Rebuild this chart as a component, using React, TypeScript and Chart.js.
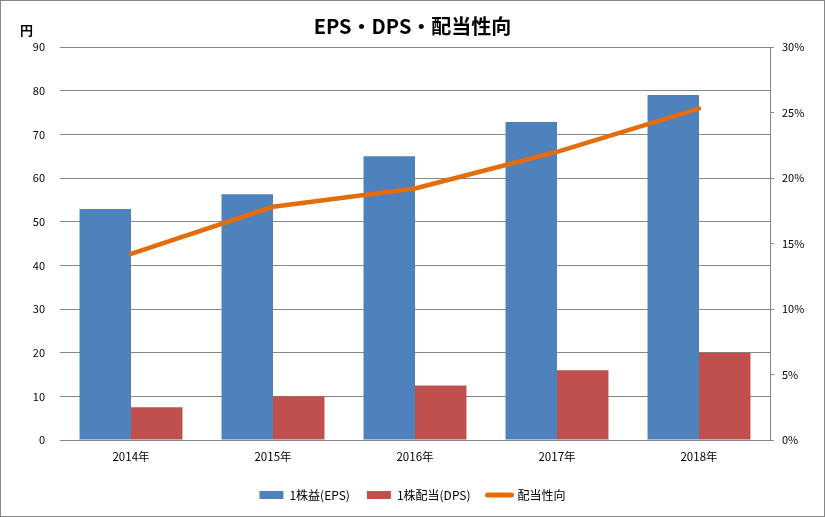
import React, { useEffect, useRef } from "react";
import { Chart, registerables } from "chart.js";

Chart.register(...registerables);

const years = ["2014年", "2015年", "2016年", "2017年", "2018年"];
const eps = [52.9, 56.3, 65.0, 72.8, 79.0];
const dps = [7.5, 10.0, 12.5, 16.0, 20.0];
const payoutRatio = [14.2, 17.8, 19.2, 22.0, 25.3];

const TITLE = "EPS・DPS・配当性向";
const UNIT = "円";
const FONT = "'Noto Sans CJK JP', 'Noto Sans', sans-serif";
const GRID = "#868686";
const LINE_COLOR = "#E46C0A";

const frameAndTitle = {
  id: "frameAndTitle",
  beforeDraw(chart: any) {
    const { ctx, width, height } = chart;
    ctx.save();
    ctx.fillStyle = "#ffffff";
    ctx.fillRect(0, 0, width, height);
    ctx.strokeStyle = GRID;
    ctx.lineWidth = 1;
    ctx.strokeRect(0.5, 0.5, width - 1, height - 1);
    ctx.restore();
  },
  afterDraw(chart: any) {
    const { ctx, width, chartArea } = chart;
    ctx.save();
    ctx.fillStyle = "#000000";
    ctx.textBaseline = "middle";
    ctx.textAlign = "center";
    ctx.font = `bold 20px ${FONT}`;
    ctx.fillText(TITLE, width / 2, 26);
    ctx.font = `bold 13px ${FONT}`;
    ctx.textAlign = "left";
    ctx.fillText(UNIT, chartArea.left - 40, chartArea.top - 17);
    ctx.restore();
  },
};

export default function App() {
  const ref = useRef<HTMLCanvasElement>(null);

  useEffect(() => {
    if (!ref.current) return;
    const chart = new Chart(ref.current, {
      type: "bar",
      data: {
        labels: years,
        datasets: [
          {
            label: "1株益(EPS)",
            data: eps,
            backgroundColor: "#4F81BD",
            yAxisID: "y",
            order: 1,
          },
          {
            label: "1株配当(DPS)",
            data: dps,
            backgroundColor: "#C0504D",
            yAxisID: "y",
            order: 1,
          },
          {
            type: "line",
            label: "配当性向",
            data: payoutRatio,
            borderColor: LINE_COLOR,
            backgroundColor: LINE_COLOR,
            borderWidth: 4.5,
            borderCapStyle: "round",
            pointRadius: 0,
            tension: 0,
            yAxisID: "y1",
            order: 0,
          } as any,
        ],
      },
      options: {
        responsive: false,
        animation: false,
        devicePixelRatio: 1,
        layout: { padding: { top: 47, left: 0, right: 0, bottom: 6 } },
        datasets: {
          bar: { categoryPercentage: 0.725, barPercentage: 1 },
        } as any,
        plugins: {
          title: { display: false },
          tooltip: { enabled: false },
          legend: {
            position: "bottom",
            labels: {
              font: { family: FONT, size: 12 },
              color: "#000000",
              usePointStyle: true,
              pointStyleWidth: 24,
              boxHeight: 8,
              padding: 17,
              sort: (a: any, b: any) => a.datasetIndex - b.datasetIndex,
              generateLabels(c: any) {
                const items = Chart.defaults.plugins.legend.labels.generateLabels(c);
                return items.map((it: any) => {
                  if (c.data.datasets[it.datasetIndex].type === "line") {
                    return {
                      ...it,
                      pointStyle: "line",
                      lineWidth: 5,
                      lineCap: "round",
                      strokeStyle: LINE_COLOR,
                      fillStyle: LINE_COLOR,
                    };
                  }
                  return { ...it, pointStyle: "rect", lineWidth: 0 };
                });
              },
            },
          },
        },
        scales: {
          x: {
            grid: { display: false, drawTicks: false },
            border: { display: true, color: GRID },
            ticks: { font: { family: FONT, size: 11.5 }, color: "#000000", padding: 10 },
            afterFit(scale: any) {
              scale.height = 32;
            },
          },
          y: {
            position: "left",
            min: 0,
            max: 90,
            ticks: {
              stepSize: 10,
              font: { family: FONT, size: 11 },
              color: "#000000",
              padding: 15,
            },
            grid: { color: GRID, drawTicks: false },
            border: { display: false },
            afterFit(scale: any) {
              scale.width = 60;
            },
          },
          y1: {
            position: "right",
            min: 0,
            max: 30,
            ticks: {
              stepSize: 5,
              font: { family: FONT, size: 11 },
              color: "#000000",
              padding: 8,
              callback: (v: any) => `${v}%`,
            },
            grid: { drawOnChartArea: false, drawTicks: true, tickLength: 4, color: GRID },
            border: { display: true, color: GRID },
            afterFit(scale: any) {
              scale.width = 55;
            },
          },
        },
      },
      plugins: [frameAndTitle],
    });
    return () => chart.destroy();
  }, []);

  return (
    <div style={{ position: "fixed", left: 0, top: 0, width: 825, height: 517 }}>
      <canvas ref={ref} width={825} height={517} />
    </div>
  );
}
